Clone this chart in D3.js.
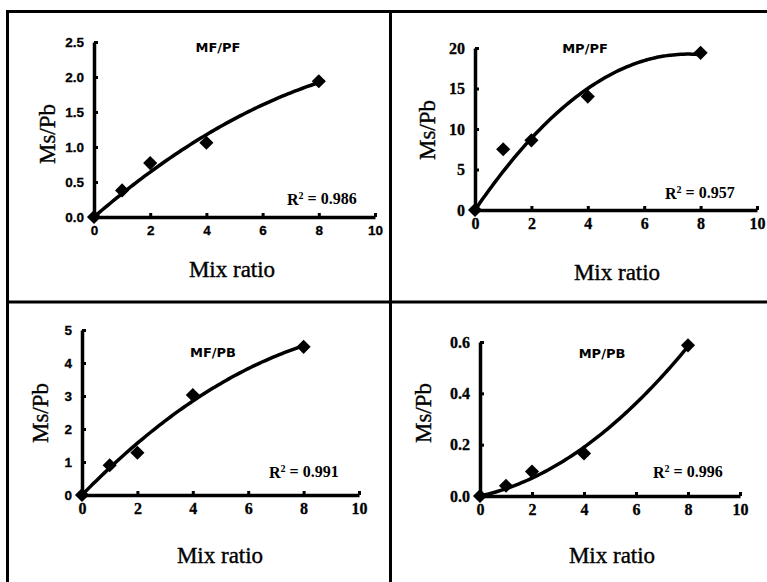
<!DOCTYPE html>
<html><head><meta charset="utf-8">
<script src="https://cdn.jsdelivr.net/npm/d3@7"></script>
<style>body{margin:0;background:#fff}svg{display:block}</style>
</head><body>
<script>
// ---- data ----
const mixRatio = [0, 1, 2, 4, 8];
const mfpf = [0, 0.38, 0.77, 1.06, 1.94];
const mppf = [0, 7.5, 8.6, 14.0, 19.4];
const mfpb = [0, 0.9, 1.28, 3.03, 4.49];
const mppb = [0, 0.04, 0.095, 0.166, 0.587];
const titles = ["MF/PF", "MP/PF", "MF/PB", "MP/PB"];
const r2Values = ["0.986", "0.957", "0.991", "0.996"];
const xTicks = [0, 2, 4, 6, 8, 10];
const yTicksMFPF = [0, 0.5, 1.0, 1.5, 2.0, 2.5];
const yTicksMPPF = [0, 5, 10, 15, 20];
const yTicksMFPB = [0, 1, 2, 3, 4, 5];
const yTicksMPPB = [0, 0.2, 0.4, 0.6];

const W = 767, H = 582;
const svg = d3.select("body").append("svg").attr("width", W).attr("height", H);

const serif = "'Liberation Serif','Times New Roman',serif";
const sans = "'Liberation Sans',Arial,sans-serif";
const titleFont = "'DejaVu Sans',Arial,sans-serif";

// frame
const frame = svg.append("g").attr("stroke", "#000").attr("stroke-width", 3);
frame.append("line").attr("x1", 6).attr("x2", W).attr("y1", 11.5).attr("y2", 11.5);
frame.append("line").attr("x1", 7.5).attr("x2", 7.5).attr("y1", 10).attr("y2", H);
frame.append("line").attr("x1", 390.5).attr("x2", 390.5).attr("y1", 10).attr("y2", H);
frame.append("line").attr("x1", 6).attr("x2", W).attr("y1", 302).attr("y2", 302);

// panel layout (pixels)
const panels = [
  {vals: mfpf, yTicks: yTicksMFPF, fmt: d3.format(".1f"), x0: 94, x1: 375, y0: 217, y1: 42, yFont: sans, xFont: sans, yfs: 13.5, xfs: 13.5,
   title: [218, 47], r2: [287, 199], ylab: [47, 134], xlab: [232, 277]},
  {vals: mppf, yTicks: yTicksMPPF, fmt: d3.format("d"), x0: 475, x1: 757, y0: 210, y1: 48, yFont: serif, xFont: serif, yfs: 16, xfs: 16,
   title: [585, 48], r2: [665, 193], ylab: [427, 130], xlab: [617, 280]},
  {vals: mfpb, yTicks: yTicksMFPB, fmt: d3.format("d"), x0: 82, x1: 359, y0: 495, y1: 330, yFont: sans, xFont: serif, yfs: 13.5, xfs: 16,
   title: [213, 352], r2: [269, 472], ylab: [40, 413], xlab: [220, 563]},
  {vals: mppb, yTicks: yTicksMPPB, fmt: d3.format(".1f"), x0: 480, x1: 740, y0: 496, y1: 342, yFont: serif, xFont: serif, yfs: 16, xfs: 16,
   title: [602, 353], r2: [653, 472], ylab: [423, 413], xlab: [612, 563]}
];

// least-squares quadratic through origin: y = a x + b x^2
function fitQuad(xs, ys) {
  let s2 = 0, s3 = 0, s4 = 0, sxy = 0, sx2y = 0;
  xs.forEach((x, i) => { const y = ys[i]; s2 += x*x; s3 += x*x*x; s4 += x*x*x*x; sxy += x*y; sx2y += x*x*y; });
  const det = s2*s4 - s3*s3;
  return {a: (sxy*s4 - s3*sx2y)/det, b: (s2*sx2y - s3*sxy)/det};
}

panels.forEach((p, i) => {
  const g = svg.append("g");
  const x = d3.scaleLinear().domain([0, 10]).range([p.x0, p.x1]);
  const yMax = p.yTicks[p.yTicks.length - 1];
  const y = d3.scaleLinear().domain([0, yMax]).range([p.y0, p.y1]);

  const xa = g.append("g").attr("transform", `translate(0,${p.y0})`)
    .call(d3.axisBottom(x).tickValues(xTicks).tickFormat(d3.format("d")).tickSizeInner(-4).tickSizeOuter(0).tickPadding(8));
  const ya = g.append("g").attr("transform", `translate(${p.x0},0)`)
    .call(d3.axisLeft(y).tickValues(p.yTicks).tickFormat(p.fmt).tickSizeInner(-4).tickSizeOuter(0).tickPadding(10));
  [xa, ya].forEach(a => {
    a.select(".domain").attr("stroke", "#000").attr("stroke-width", 3.5);
    a.selectAll(".tick line").attr("stroke", "#000").attr("stroke-width", 3);
  });
  xa.selectAll("text").attr("font-family", p.xFont).attr("font-weight", "bold").attr("font-size", p.xfs)
    .attr("fill", "#000").attr("stroke", "#000").attr("stroke-width", 0.3);
  ya.selectAll("text").attr("font-family", p.yFont).attr("font-weight", "bold").attr("font-size", p.yfs)
    .attr("fill", "#000").attr("stroke", "#000").attr("stroke-width", 0.3);

  // trend curve
  const f = fitQuad(mixRatio, p.vals);
  const xs = d3.range(0, 8.001, 0.1);
  g.append("path")
    .attr("d", d3.line().x(d => x(d)).y(d => y(f.a*d + f.b*d*d)).curve(d3.curveBasis)(xs))
    .attr("fill", "none").attr("stroke", "#000").attr("stroke-width", 3.5);

  // markers
  g.selectAll(".pt").data(mixRatio.map((m, j) => [m, p.vals[j]])).enter().append("path")
    .attr("d", d3.symbol(d3.symbolSquare, 100)())
    .attr("transform", d => `translate(${x(d[0])},${y(d[1])}) rotate(45)`)
    .attr("fill", "#000");

  // title
  g.append("text").attr("x", p.title[0]).attr("y", p.title[1]).attr("dy", "0.35em")
    .attr("text-anchor", "middle").attr("font-family", titleFont).attr("font-weight", "bold").attr("font-size", 13)
    .text(titles[i]);

  // R^2
  const t = g.append("text").attr("x", p.r2[0]).attr("y", p.r2[1]).attr("dy", "0.35em")
    .attr("font-family", serif).attr("font-weight", "bold").attr("font-size", 16);
  t.append("tspan").text("R");
  t.append("tspan").attr("font-size", 10).attr("dy", "-0.6em").text("2");
  t.append("tspan").attr("dy", "0.35em").text(" = " + r2Values[i]);

  // axis labels
  g.append("text").attr("transform", `translate(${p.ylab[0]},${p.ylab[1]}) rotate(-90)`)
    .attr("dy", "0.35em").attr("text-anchor", "middle").attr("font-family", serif).attr("font-size", 23)
    .attr("stroke", "#000").attr("stroke-width", 0.4)
    .text("Ms/Pb");
  g.append("text").attr("x", p.xlab[0]).attr("y", p.xlab[1]).attr("text-anchor", "middle")
    .attr("font-family", serif).attr("font-size", 23).attr("stroke", "#000").attr("stroke-width", 0.4)
    .text("Mix ratio");
});
</script>
</body></html>
